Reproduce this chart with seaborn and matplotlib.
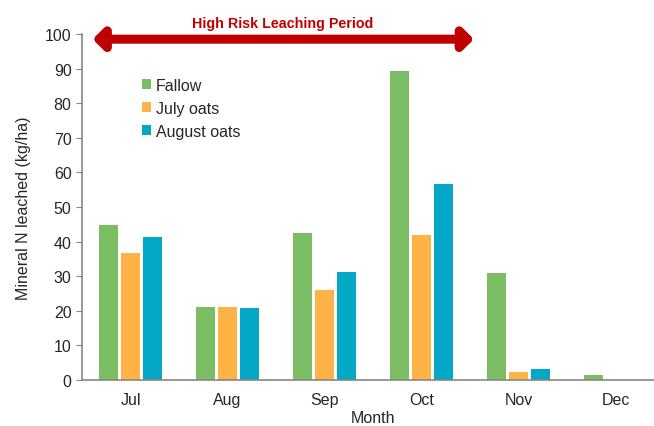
import matplotlib
matplotlib.use("Agg")
import matplotlib.pyplot as plt
import numpy as np
import pandas as pd
import seaborn as sns

months = ["Jul", "Aug", "Sep", "Oct", "Nov", "Dec"]
fallow = [44.8, 21.2, 42.5, 89.2, 30.9, 1.4]
july_oats = [36.6, 21.2, 26.1, 42.0, 2.2, 0.0]
august_oats = [41.4, 20.9, 31.3, 56.6, 3.2, 0.0]
series_names = ["Fallow", "July oats", "August oats"]
palette = ["#7BBD63", "#FFB347", "#03A8C6"]

df = pd.DataFrame({
    "Month": months * 3,
    "value": fallow + july_oats + august_oats,
    "series": np.repeat(series_names, len(months)),
})

sns.set_style("white")
plt.rcParams["font.family"] = ["Liberation Sans", "DejaVu Sans"]

fig = plt.figure(figsize=(6.54, 4.27), dpi=100)
ax = fig.add_axes([82 / 654, 1 - 381 / 427, 582 / 654, 346 / 427])

sns.barplot(
    data=df, x="Month", y="value", hue="series", palette=palette,
    width=0.69, gap=0.15, linewidth=0, saturation=1, ax=ax,
)

ax.set_xlim(-0.5, 5.5)
ax.set_ylim(0, 100)
ax.set_yticks(np.arange(0, 101, 10))
ax.set_xticks(np.arange(-0.5, 5.6, 1), minor=True)
ax.tick_params(axis="x", which="major", length=0, labelsize=11.5, pad=9)
ax.tick_params(axis="x", which="minor", length=4, color="#868686", direction="out")
ax.tick_params(axis="y", length=4, color="#868686", labelsize=11.5, left=True, direction="out")
for s in ["top", "right"]:
    ax.spines[s].set_visible(False)
for s in ["left", "bottom"]:
    ax.spines[s].set_color("#868686")
    ax.spines[s].set_linewidth(1.2)

ax.set_xlabel("Month", fontsize=11.5, labelpad=2)
ax.set_ylabel("Mineral N leached (kg/ha)", fontsize=11.5, labelpad=10)

handles, labels = ax.get_legend_handles_labels()
ax.legend(handles, labels, loc="upper left", bbox_to_anchor=(0.078, 0.915),
          frameon=False, fontsize=11.5, handlelength=0.6, handleheight=0.6,
          handletextpad=0.3, labelspacing=0.5)

# high risk period arrow
ax.annotate("", xy=(-0.39, 98.5), xytext=(3.54, 98.5), annotation_clip=False,
            arrowprops=dict(arrowstyle="<|-|>,head_length=0.6,head_width=0.6",
                            lw=6.5, color="#C00000", shrinkA=0, shrinkB=0))
ax.text(1.57, 103.3, "High Risk Leaching Period", ha="center", va="center",
        fontsize=10.3, fontweight="bold", color="#C00000", clip_on=False)

fig.savefig("out.png", dpi=100)
